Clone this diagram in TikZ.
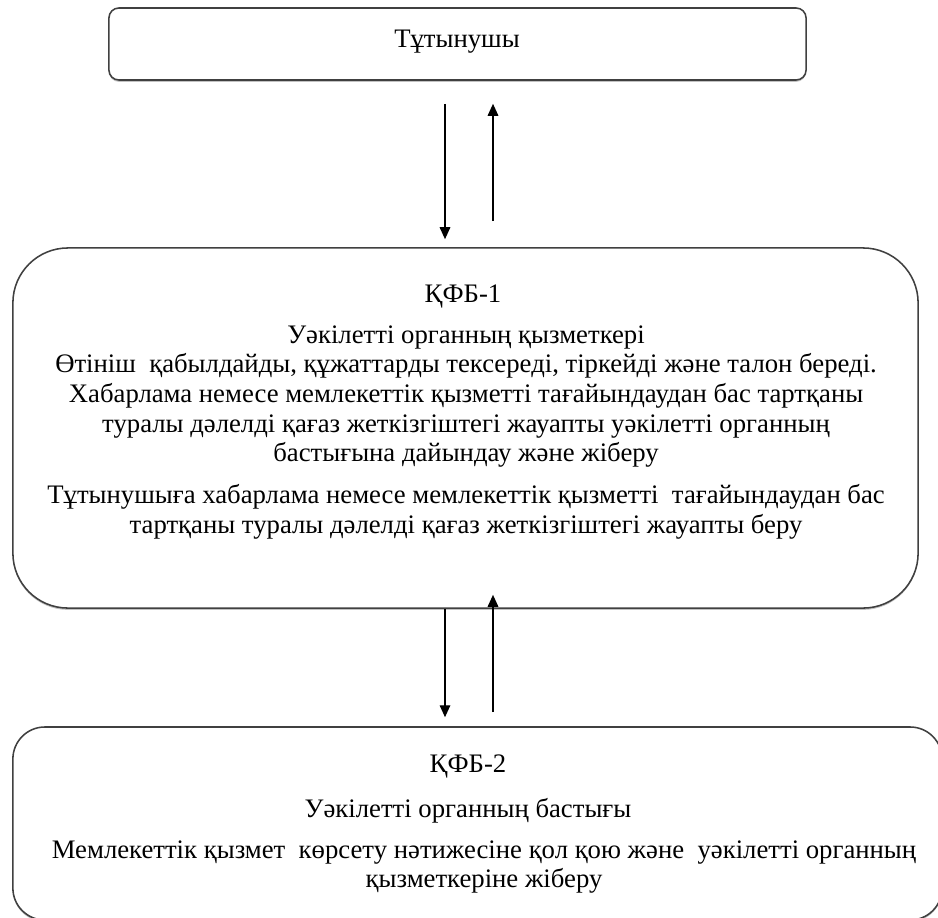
\documentclass[tikz,border=0pt]{standalone}
\usepackage{fontspec}
\setmainfont{Liberation Serif}
\usetikzlibrary{arrows.meta, positioning, shadows}

\begin{document}
\begin{tikzpicture}[
  x=0.025cm, y=-0.025cm,
  font=\fontsize{19}{21}\selectfont,
  box/.style={draw=black!75, line width=1.1pt, fill=white,
              drop shadow={shadow xshift=0pt, shadow yshift=-1.3pt, fill=black!40, opacity=0.6}},
  txt/.style={align=center, inner sep=0pt},
  arr/.style={-{Triangle[width=7.5pt, length=8.5pt]}, line width=1pt}
]
  \clip (0,0) rectangle (938,917);

  % boxes
  \node[box, rounded corners=0.25cm, minimum width=17.425cm, minimum height=1.8cm]
    (user) at (457.5,44) {};
  \node[box, rounded corners=1.375cm, minimum width=22.625cm, minimum height=9cm]
    (kfb1) at (465.5,428) {};
  \node[box, rounded corners=0.8cm, minimum width=23.225cm, minimum height=4.825cm]
    (kfb2) at (477.5,823.5) {};

  % texts
  \node[txt] (usert) at (457,42) {Тұтынушы};
  \node[txt] (kfb1a) at (463,297) {ҚФБ-1};
  \node[txt] (kfb1b) at (466,396.5) {Уәкілетті органның қызметкері\\
    Өтініш~~қабылдайды, құжаттарды тексереді, тіркейді және талон береді.\\
    Хабарлама немесе мемлекеттік қызметті тағайындаудан бас тартқаны\\
    туралы дәлелді қағаз жеткізгіштегі жауапты уәкілетті органның\\
    бастығына дайындау және жіберу};
  \node[txt] (kfb1c) at (466,512) {Тұтынушыға хабарлама немесе мемлекеттік қызметті~~тағайындаудан бас\\
    тартқаны туралы дәлелді қағаз жеткізгіштегі жауапты беру};
  \node[txt] (kfb2a) at (468,766) {ҚФБ-2};
  \node[txt] (kfb2b) at (468,811) {Уәкілетті органның бастығы};
  \node[txt] (kfb2c) at (484,867) {Мемлекеттік қызмет~~көрсету нәтижесіне қол қою және~~уәкілетті органның\\
    қызметкеріне жіберу};

  % arrow columns
  \coordinate (dn) at (445,0);
  \coordinate (up) at (493,0);

  \draw[arr, shorten <=0.575cm, shorten >=0.2cm] (user.south -| dn) -- (kfb1.north -| dn);
  \draw[arr, shorten <=0.65cm, shorten >=0.575cm] (kfb1.north -| up) -- (user.south -| up);
  \draw[arr, shorten >=0.225cm] (kfb1.south -| dn) -- (kfb2.north -| dn);
  \draw[arr, shorten <=0.35cm, shorten >=-0.35cm] (kfb2.north -| up) -- (kfb1.south -| up);
\end{tikzpicture}
\end{document}
